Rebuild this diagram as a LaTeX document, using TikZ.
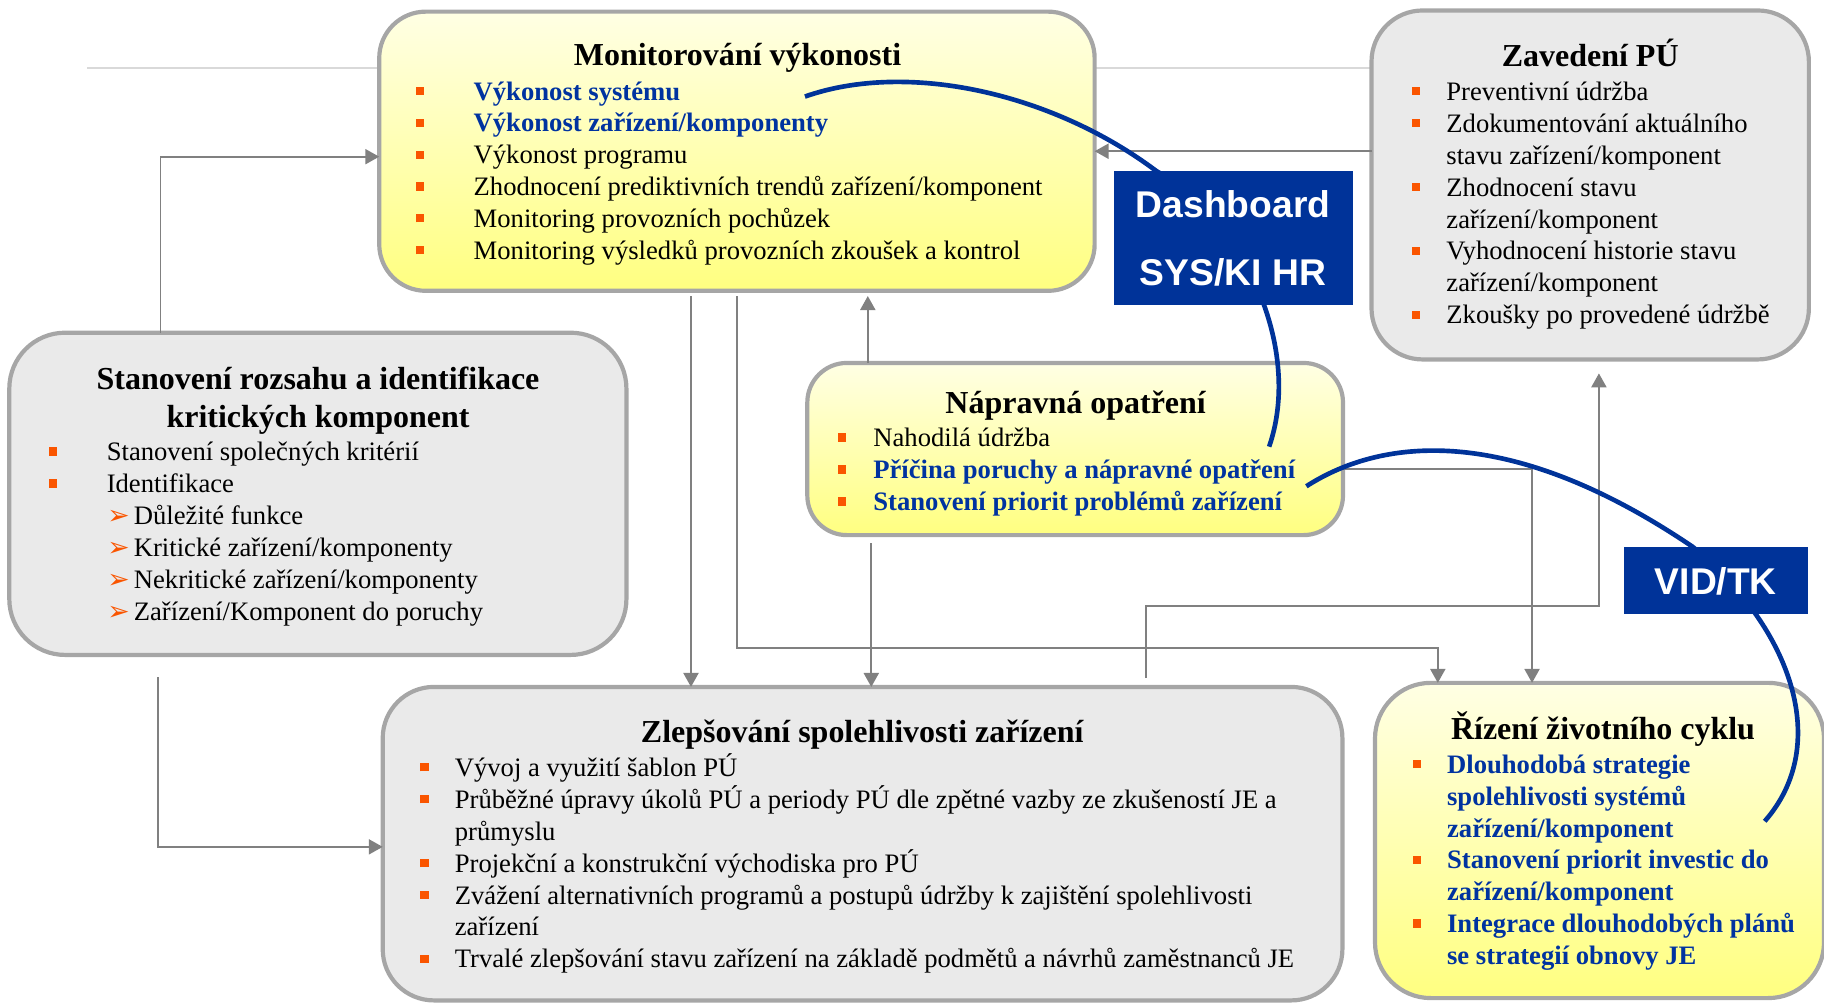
\documentclass[tikz,border=0pt]{standalone}
\usepackage{fontspec}
\setmainfont{Liberation Serif}
\newfontfamily\arialfont{Liberation Sans}
\newfontfamily\dejavu{DejaVu Sans}
\usetikzlibrary{arrows.meta,calc,fit}
\definecolor{boxgray}{RGB}{166,166,166}
\definecolor{fillgray}{RGB}{234,234,234}
\definecolor{ytop}{RGB}{255,255,228}
\definecolor{ybot}{RGB}{255,255,128}
\definecolor{dblue}{RGB}{0,51,153}
\definecolor{tblue}{RGB}{0,51,160}
\definecolor{conngray}{RGB}{128,128,128}
\definecolor{lightline}{RGB}{217,217,217}
\definecolor{bulor}{RGB}{250,85,0}
\newcommand\bq{\textcolor{bulor}{\rule[2.2pt]{3.5pt}{3.5pt}}}
\newcommand\ahd{{\dejavu\fontsize{11.5}{11.5}\selectfont\textcolor{bulor}{➢}}}
\tikzset{
  box/.style={draw=boxgray, line width=1.8pt, rounded corners=20pt, inner sep=0pt, outer sep=0pt},
  gbox/.style={box, fill=fillgray},
  ybox/.style={box, top color=ytop, bottom color=ybot},
  tagbox/.style={fill=dblue, draw=none, inner sep=0pt, outer sep=0pt},
  tagtxt/.style={anchor=base, inner sep=0pt, text=white, font=\arialfont\bfseries\fontsize{16}{18}\selectfont},
  ttl/.style={anchor=base, inner sep=0pt, font=\bfseries\fontsize{13.75}{16}\selectfont},
  txt/.style={anchor=base west, inner sep=0pt, font=\fontsize{11.45}{13.7}\selectfont},
  btxt/.style={anchor=base west, inner sep=0pt, text=tblue, font=\bfseries\fontsize{11.45}{13.7}\selectfont},
  conn/.style={draw=conngray, line width=0.75pt, -{Triangle[length=6pt,width=6.5pt]}},
  link/.style={draw=dblue, line width=2pt},
  thin line/.style={draw=lightline, line width=0.85pt}
}
\begin{document}
\begin{tikzpicture}[x=0.5pt,y=-0.5pt]
\path[use as bounding box] (0,0) rectangle (1568,862);

% light background line
\coordinate (l0) at (75,58.5);
\draw[thin line] (l0) -- (1180,58.5);

% boxes
\node[ybox, fit={(326,10) (941,250)}] (mon) {};
\node[gbox, rounded corners=22pt, fit={(1179,9) (1555,309)}] (zav) {};
\node[gbox, rounded corners=24pt, fit={(8,286) (538.5,563)}] (sta) {};
\node[ybox, rounded corners=17pt, fit={(694,312) (1154.5,460)}] (nap) {};
\node[gbox, rounded corners=22pt, fit={(329,590.5) (1154,860)}] (zle) {};
\node[ybox, rounded corners=24pt, fit={(1182,587) (1568,858)}] (riz) {};

% Monitorovani
\node[ttl] (mon-t) at (634,56) {Monitorování výkonosti};
\node[btxt] (mon-1) at (357,86) {\makebox[24.9pt][l]{\bq}Výkonost systému};
\node[btxt] (mon-2) at (357,113.4) {\makebox[24.9pt][l]{\bq}Výkonost zařízení/komponenty};
\node[txt] (mon-3) at (357,140.8) {\makebox[24.9pt][l]{\bq}Výkonost programu};
\node[txt] (mon-4) at (357,168.2) {\makebox[24.9pt][l]{\bq}Zhodnocení prediktivních trendů zařízení/komponent};
\node[txt] (mon-5) at (357,195.6) {\makebox[24.9pt][l]{\bq}Monitoring provozních pochůzek};
\node[txt] (mon-6) at (357,223) {\makebox[24.9pt][l]{\bq}Monitoring výsledků provozních zkoušek a kontrol};

% Zavedeni PU
\node[ttl] (zav-t) at (1367,57.3) {Zavedení PÚ};
\node[txt] (zav-1) at (1213,86) {\makebox[15pt][l]{\bq}Preventivní údržba};
\node[txt] (zav-2) at (1213,113.5) {\makebox[15pt][l]{\bq}Zdokumentování aktuálního};
\node[txt] (zav-3) at (1243,141) {stavu zařízení/komponent};
\node[txt] (zav-4) at (1213,168.5) {\makebox[15pt][l]{\bq}Zhodnocení stavu};
\node[txt] (zav-5) at (1243,196) {zařízení/komponent};
\node[txt] (zav-6) at (1213,223.5) {\makebox[15pt][l]{\bq}Vyhodnocení historie stavu};
\node[txt] (zav-7) at (1243,251) {zařízení/komponent};
\node[txt] (zav-8) at (1213,278.5) {\makebox[15pt][l]{\bq}Zkoušky po provedené údržbě};

% Stanoveni
\node[ttl] (sta-t1) at (273.4,335.2) {Stanovení rozsahu a identifikace};
\node[ttl] (sta-t2) at (273.4,367.3) {kritických komponent};
\node[txt] (sta-1) at (41.4,396) {\makebox[25pt][l]{\bq}Stanovení společných kritérií};
\node[txt] (sta-2) at (41.4,423.5) {\makebox[25pt][l]{\bq}Identifikace};
\node[txt] (sta-3) at (92,451) {\makebox[11.35pt][l]{\ahd}Důležité funkce};
\node[txt] (sta-4) at (92,478.5) {\makebox[11.35pt][l]{\ahd}Kritické zařízení/komponenty};
\node[txt] (sta-5) at (92,506) {\makebox[11.35pt][l]{\ahd}Nekritické zařízení/komponenty};
\node[txt] (sta-6) at (92,533.5) {\makebox[11.35pt][l]{\ahd}Zařízení/Komponent do poruchy};

% Napravna opatreni
\node[ttl] (nap-t) at (924.7,355.3) {Nápravná opatření};
\node[txt] (nap-1) at (720,384) {\makebox[15.2pt][l]{\bq}Nahodilá údržba};
\node[btxt] (nap-2) at (720,411.5) {\makebox[15.2pt][l]{\bq}Příčina poruchy a nápravné opatření};
\node[btxt] (nap-3) at (720,439) {\makebox[15.2pt][l]{\bq}Stanovení priorit problémů zařízení};

% Zlepsovani
\node[ttl] (zle-t) at (741.2,638.4) {Zlepšování spolehlivosti zařízení};
\node[txt] (zle-1) at (361,667.6) {\makebox[14.8pt][l]{\bq}Vývoj a využití šablon PÚ};
\node[txt] (zle-2) at (361,695) {\makebox[14.8pt][l]{\bq}Průběžné úpravy úkolů PÚ a periody PÚ dle zpětné vazby ze zkušeností JE a};
\node[txt] (zle-3) at (390.6,722.4) {průmyslu};
\node[txt] (zle-4) at (361,749.8) {\makebox[14.8pt][l]{\bq}Projekční a konstrukční východiska pro PÚ};
\node[txt] (zle-5) at (361,777.2) {\makebox[14.8pt][l]{\bq}Zvážení alternativních programů a postupů údržby k zajištění spolehlivosti};
\node[txt] (zle-6) at (390.6,804.6) {zařízení};
\node[txt] (zle-7) at (361,832) {\makebox[14.8pt][l]{\bq}Trvalé zlepšování stavu zařízení na základě podmětů a návrhů zaměstnanců JE};

% Rizeni zivotniho cyklu
\node[ttl] (riz-t) at (1378,635.5) {Řízení životního cyklu};
\node[btxt] (riz-1) at (1214,664.8) {\makebox[14.8pt][l]{\bq}Dlouhodobá strategie};
\node[btxt] (riz-2) at (1243.6,692.2) {spolehlivosti systémů};
\node[btxt] (riz-3) at (1243.6,719.6) {zařízení/komponent};
\node[btxt] (riz-4) at (1214,747) {\makebox[14.8pt][l]{\bq}Stanovení priorit investic do};
\node[btxt] (riz-5) at (1243.6,774.4) {zařízení/komponent};
\node[btxt] (riz-6) at (1214,801.8) {\makebox[14.8pt][l]{\bq}Integrace dlouhodobých plánů};
\node[btxt] (riz-7) at (1243.6,829.2) {se strategií obnovy JE};

% connectors
\coordinate (x1) at (138,0);
\coordinate (y1) at (0,134.7);
\draw[conn] (x1 |- sta.north) |- (mon.west |- y1);

\coordinate (c2s) at (136,582);
\coordinate (y2) at (0,728);
\draw[conn] (c2s) |- (zle.west |- y2);

\coordinate (c3s) at (594,254.5);
\draw[conn] (c3s) -- (c3s |- zle.north);

\coordinate (c4s) at (633.6,254.5);
\coordinate (c4b) at (1236,556.8);
\draw[conn] (c4s) |- (c4b) -- (c4b |- riz.north);

\coordinate (c5e) at (746,254.5);
\draw[conn] (c5e |- nap.north) -- (c5e);

\coordinate (c6s) at (749,467);
\draw[conn] (c6s) -- (c6s |- zle.north);

\coordinate (y7) at (0,403);
\coordinate (x7) at (1317,0);
\draw[conn] (nap.east |- y7) -| (x7 |- riz.north);

\coordinate (c8s) at (985,583);
\coordinate (c8b) at (1374.5,521);
\coordinate (c8e) at (1374.5,321);
\draw[conn] (c8s) |- (c8b) -- (c8e);

\draw[conn] (zav.west |- mon.east) -- (mon.east);

% blue links
\coordinate (a1) at (692,83);
\coordinate (a2) at (994,147);
\coordinate (a3) at (1091,384);
\draw[link] (a1) .. controls (780,52) and (905,80) .. (a2) .. controls (1070,190) and (1120,300) .. (a3);

\coordinate (b1) at (1123,418);
\coordinate (b2) at (1455,470);
\coordinate (b3) at (1517,706);
\draw[link] (b1) .. controls (1190,375) and (1300,365) .. (b2) .. controls (1540,540) and (1575,640) .. (b3);

% tags
\node[tagbox, fit={(957.6,147) (1162.8,262)}] (dash) {};
\node[tagtxt] (dash-1) at (1060,186.8) {Dashboard};
\node[tagtxt] (dash-2) at (1060,245) {SYS/KI HR};
\node[tagbox, fit={(1396,470) (1554,528)}] (vid) {};
\node[tagtxt] (vid-1) at (1475,511) {VID/TK};
\end{tikzpicture}
\end{document}
